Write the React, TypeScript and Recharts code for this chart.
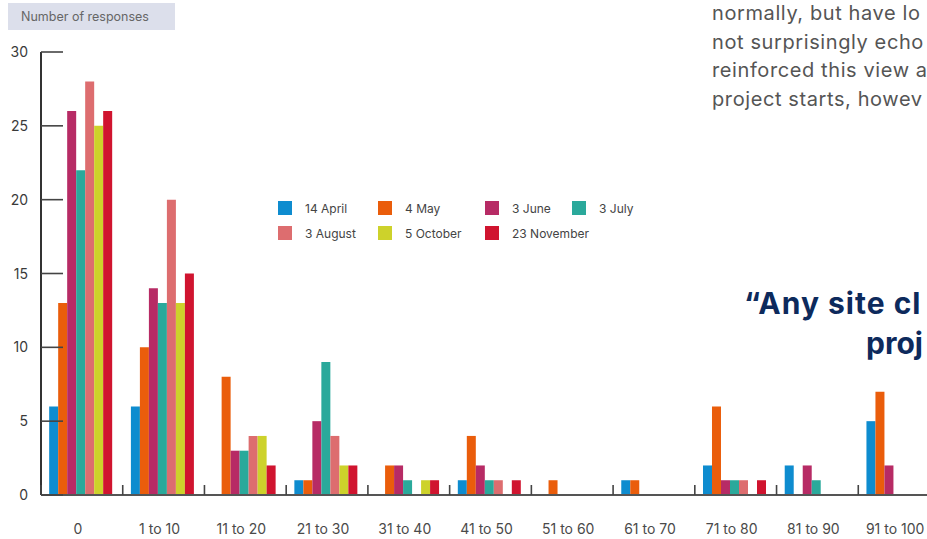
import { BarChart, Bar, XAxis, YAxis } from 'recharts';

// Response-count bands along the x axis
const categories = [
    '0', '1 to 10', '11 to 20', '21 to 30', '31 to 40', '41 to 50',
    '51 to 60', '61 to 70', '71 to 80', '81 to 90', '91 to 100',
];

// Number of responses per survey date
const april14 = [6, 6, 0, 1, 0, 1, 0, 1, 2, 2, 5];
const may4 = [13, 10, 8, 1, 2, 4, 1, 1, 6, 0, 7];
const june3 = [26, 14, 3, 5, 2, 2, 0, 0, 1, 2, 2];
const july3 = [22, 13, 3, 9, 1, 1, 0, 0, 1, 1, 0];
const august3 = [28, 20, 4, 4, 0, 1, 0, 0, 1, 0, 0];
const october5 = [25, 13, 4, 2, 1, 0, 0, 0, 0, 0, 0];
const november23 = [26, 15, 2, 2, 1, 1, 0, 0, 1, 0, 0];

const yTicks = [0, 5, 10, 15, 20, 25, 30];

const series = [
    { key: 'april14', name: '14 April', color: '#0e8ccf', values: april14 },
    { key: 'may4', name: '4 May', color: '#ea5d0b', values: may4 },
    { key: 'june3', name: '3 June', color: '#b72b65', values: june3 },
    { key: 'july3', name: '3 July', color: '#2aa99b', values: july3 },
    { key: 'august3', name: '3 August', color: '#dd6d6f', values: august3 },
    { key: 'october5', name: '5 October', color: '#cdd22b', values: october5 },
    { key: 'november23', name: '23 November', color: '#d0142f', values: november23 },
];

const FONT = 'Inter, "Open Sans", sans-serif';
const CHART_W = 950;
const CHART_H = 539;
const Y_AXIS_W = 41;
const PLOT_H = 443;
const MARGIN = { top: 52, right: 10, left: 0, bottom: 0 };
const BAND = (CHART_W - Y_AXIS_W - MARGIN.left - MARGIN.right) / categories.length;

const data = categories.map((band, i) => {
    const row: Record<string, string | number> = { band };
    series.forEach((s) => {
        row[s.key] = s.values[i];
    });
    return row;
});

// y ticks point inwards, into the plot
const YTick = ({ x, y, payload }: any) => (
    <g>
        <line x1={x} x2={x + 22} y1={y} y2={y} stroke="#444" strokeWidth={1.6} />
        <text x={x - 13} y={y} dy={5} textAnchor="end" fontSize={14} fill="#3a3a3a" fontFamily={FONT}>
            {payload.value}
        </text>
    </g>
);

// x ticks sit on the band boundaries, labels in the middle
const XTick = ({ x, y, payload }: any) => (
    <g>
        <line x1={x - BAND / 2} x2={x - BAND / 2} y1={y - 10} y2={y} stroke="#444" strokeWidth={1.6} />
        <text x={x - 4} y={y + 39} textAnchor="middle" fontSize={14} fill="#4a4a4a" fontFamily={FONT}>
            {payload.value}
        </text>
    </g>
);

function ChartLegend() {
    return (
        <div
            style={{
                position: 'absolute',
                left: 278,
                top: 201,
                display: 'grid',
                gridTemplateColumns: '100px 107px 87px auto',
                rowGap: 11,
                fontSize: 12,
                color: '#444',
            }}
        >
            {series.map((s) => (
                <div key={s.key} style={{ display: 'flex', alignItems: 'center', height: 14 }}>
                    <span style={{ width: 14, height: 14, background: s.color, marginRight: 13, flexShrink: 0 }} />
                    <span style={{ whiteSpace: 'nowrap' }}>{s.name}</span>
                </div>
            ))}
        </div>
    );
}

export default function App() {
    return (
        <div
            style={{
                position: 'absolute',
                left: 0,
                top: 0,
                width: 927,
                height: 539,
                overflow: 'hidden',
                background: '#fff',
                fontFamily: FONT,
            }}
        >
            <BarChart
                width={CHART_W}
                height={CHART_H}
                data={data}
                margin={MARGIN}
                barCategoryGap="10%"
                barGap={0}
            >
                {series.map((s) => (
                    <Bar key={s.key} dataKey={s.key} name={s.name} fill={s.color} isAnimationActive={false} />
                ))}
                <XAxis
                    dataKey="band"
                    height={CHART_H - MARGIN.top - PLOT_H}
                    axisLine={{ stroke: '#555', strokeWidth: 2 }}
                    tickLine={false}
                    tickSize={0}
                    tickMargin={0}
                    interval={0}
                    tick={<XTick />}
                />
                <YAxis
                    width={Y_AXIS_W}
                    domain={[0, 30]}
                    ticks={yTicks}
                    axisLine={{ stroke: '#333', strokeWidth: 2 }}
                    tickLine={false}
                    tickSize={0}
                    tickMargin={0}
                    interval={0}
                    tick={<YTick />}
                />
            </BarChart>

            <ChartLegend />

            <div
                style={{
                    position: 'absolute',
                    left: 8,
                    top: 3,
                    width: 167,
                    height: 27,
                    background: '#dcdfeb',
                    color: '#666',
                    fontSize: 12.5,
                    lineHeight: '27px',
                    paddingLeft: 13,
                    boxSizing: 'border-box',
                }}
            >
                Number of responses
            </div>

            <div
                style={{
                    position: 'absolute',
                    left: 712,
                    top: -1,
                    color: '#555',
                    fontSize: 20,
                    letterSpacing: 0.6,
                    lineHeight: '28.5px',
                    whiteSpace: 'nowrap',
                }}
            >
                <div>normally, but have lo</div>
                <div>not surprisingly echo</div>
                <div>reinforced this view a</div>
                <div>project starts, howev</div>
            </div>

            <div
                style={{
                    position: 'absolute',
                    left: 744,
                    top: 283,
                    color: '#0d2a5c',
                    fontSize: 30,
                    fontWeight: 700,
                    letterSpacing: 1,
                    lineHeight: '40px',
                    whiteSpace: 'nowrap',
                }}
            >
                <div>“Any site cl</div>
                <div style={{ paddingLeft: 122, letterSpacing: 0 }}>proj</div>
            </div>
        </div>
    );
}
